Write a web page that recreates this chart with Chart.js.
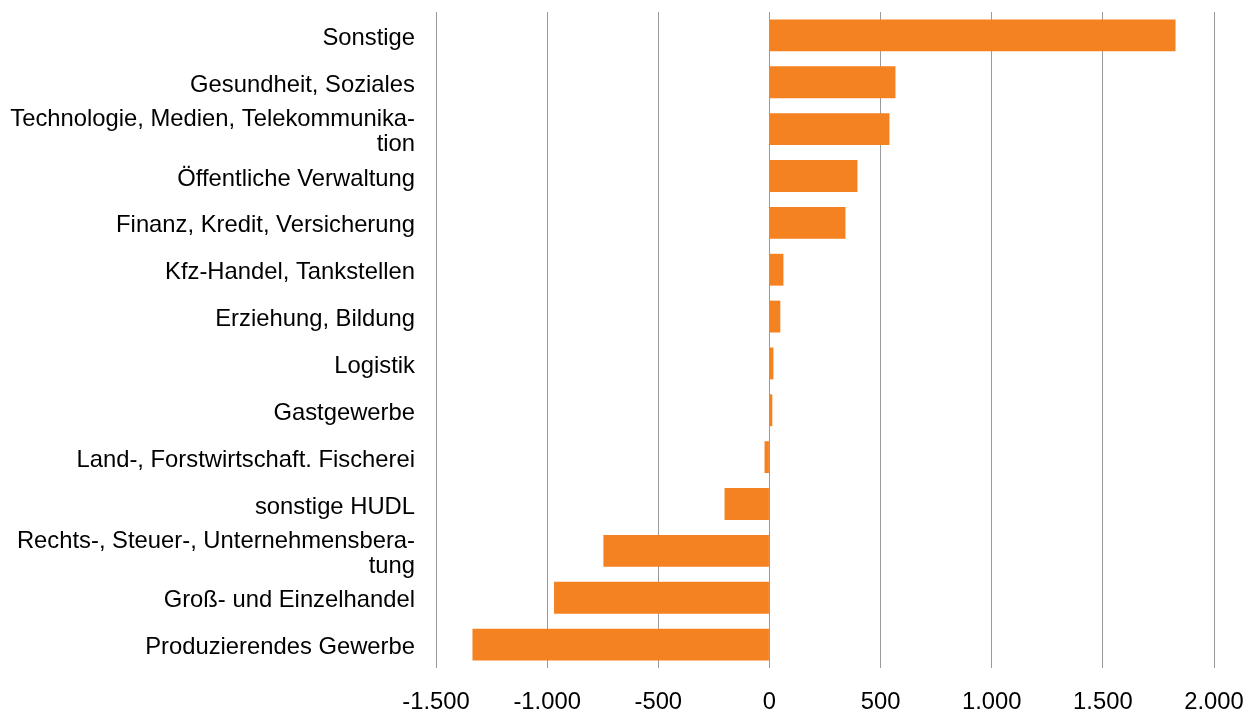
<!DOCTYPE html>
<html>
<head>
<meta charset="utf-8">
<script src="https://cdn.jsdelivr.net/npm/chart.js@4/dist/chart.umd.min.js"></script>
<style>
  html, body { margin: 0; padding: 0; background: #fff; }
  #wrap { width: 1255px; height: 713px; position: relative; }
</style>
</head>
<body>
<div id="wrap"><canvas id="c" width="1255" height="713"></canvas></div>
<script>
const categories = [
  "Sonstige",
  "Gesundheit, Soziales",
  ["Technologie, Medien, Telekommunika-", "tion"],
  "Öffentliche Verwaltung",
  "Finanz, Kredit, Versicherung",
  "Kfz-Handel, Tankstellen",
  "Erziehung, Bildung",
  "Logistik",
  "Gastgewerbe",
  "Land-, Forstwirtschaft. Fischerei",
  "sonstige HUDL",
  ["Rechts-, Steuer-, Unternehmensbera-", "tung"],
  "Groß- und Einzelhandel",
  "Produzierendes Gewerbe"
];
const values = [1827, 567, 540, 396, 342, 63, 49, 18, 13, -22, -202, -747, -969, -1336];
const xMin = -1500, xMax = 2000, xStep = 500;

function fmt(v) {
  const s = Math.abs(v).toString().replace(/\B(?=(\d{3})+(?!\d))/g, ".");
  return (v < 0 ? "-" : "") + s;
}

const FONT = { family: "'Liberation Sans', Arial, sans-serif", size: 23.8, lineHeight: 1.07 };

new Chart(document.getElementById("c"), {
  type: "bar",
  data: {
    labels: categories,
    datasets: [{
      data: values,
      backgroundColor: "#f58220",
      borderWidth: 0,
      barPercentage: 0.68,
      categoryPercentage: 1.0
    }]
  },
  options: {
    indexAxis: "y",
    responsive: false,
    animation: false,
    devicePixelRatio: 1,
    layout: { padding: { top: 12, right: 41, left: 0, bottom: 0 } },
    plugins: { legend: { display: false }, tooltip: { enabled: false } },
    scales: {
      x: {
        min: xMin, max: xMax,
        border: { display: false },
        grid: { color: "#9a9a9a", lineWidth: 1, drawTicks: false },
        ticks: {
          stepSize: xStep,
          color: "#000",
          font: FONT,
          padding: 22,
          maxRotation: 0,
          callback: (v) => fmt(v)
        },
        afterFit: (s) => { s.height = 45; s.paddingLeft = 0; s.paddingRight = 0; }
      },
      y: {
        border: { display: false },
        grid: { display: false, drawTicks: false },
        ticks: { color: "#000", font: FONT, padding: 21, autoSkip: false, labelOffset: 3 },
        afterFit: (s) => { s.width = 436; s.paddingTop = 0; s.paddingBottom = 0; }
      }
    }
  }
});
</script>
</body>
</html>
